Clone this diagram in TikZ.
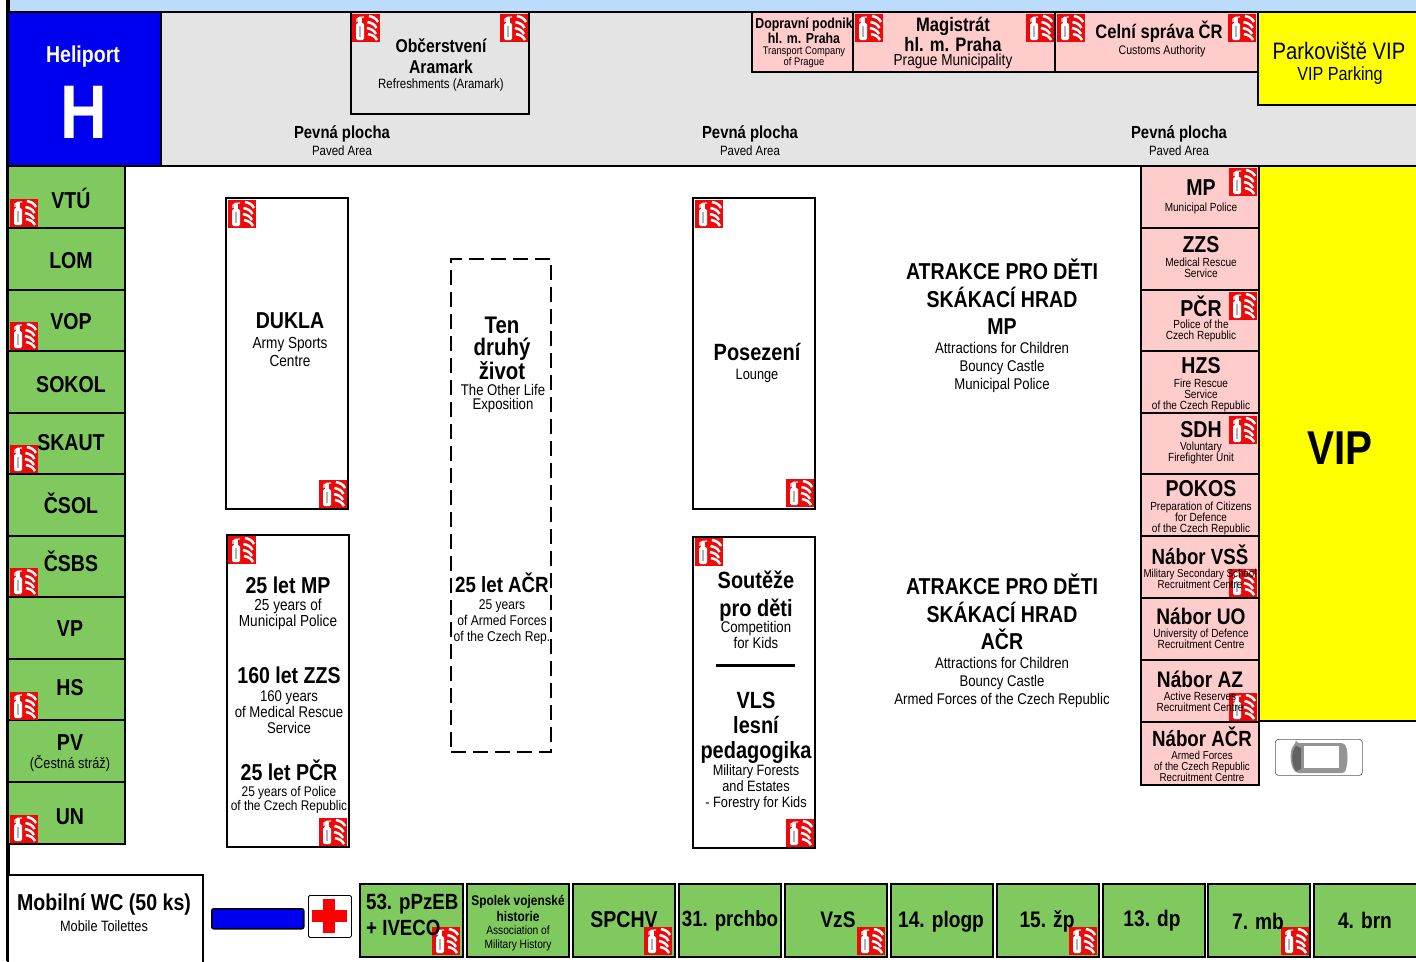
\documentclass[tikz,border=0pt]{standalone}
\usepackage{fontspec}
\setmainfont[FakeStretch=0.85]{Liberation Sans}
\definecolor{sky}{HTML}{BBDDFB}
\definecolor{pave}{HTML}{E4E4E4}
\definecolor{pinkb}{HTML}{FFCCCC}
\definecolor{greenb}{HTML}{7FC95F}
\definecolor{helib}{HTML}{0000F0}
\definecolor{vipy}{HTML}{FFFF00}
\definecolor{fired}{HTML}{EE0A0A}
\tikzset{
 area/.style={draw=black,line width=2.8pt,inner sep=0pt,outer sep=0pt,anchor=north west},
 hb/.style n args={2}{align=center,inner sep=0pt,font=\bfseries\fontsize{#1}{#2}\selectfont},
 hr/.style n args={2}{align=center,inner sep=0pt,font=\fontsize{#1}{#2}\selectfont},
 hbl/.style n args={2}{align=left,inner sep=0pt,font=\bfseries\fontsize{#1}{#2}\selectfont},
}
\newcommand{\bx}[6]{\node[area,#6,minimum width={(#4-#2)*1pt},minimum height={(#5-#3)*1pt}] (#1) at (#2,#3) {};}
\newcommand{\fireicon}[2]{\begin{scope}[shift={(#1,#2)}]
 \fill[fired] (0,0) rectangle (28,28);
 \fill[white,rounded corners=1.5pt] (4,9) rectangle (12,26);
 \fill[black!30] (7,12) rectangle (9,23);
 \draw[white,line width=1.2pt] (5,8) -- (5,5) .. controls (6,3) and (9,3) .. (12,3);
 \fill[white] (6,4) rectangle (10,9);
 \foreach \fy/\fx in {2/17,8/15.5,14/15,20/16}{
  \draw[white,line width=2.5pt] (\fx,\fy) .. controls (\fx+4,\fy+1) and (\fx+7,\fy+2) .. (\fx+9,\fy+6);}
 \end{scope}}
\begin{document}
\begin{tikzpicture}[x=1pt,y=-1pt]
\useasboundingbox (0,0) rectangle (1416,961);
\fill[white] (0,0) rectangle (1416,961);
\fill[sky] (8,0) rectangle (1416,12);
\coordinate (edgeT) at (8,0);
\coordinate (edgeB) at (8,961);
\draw[line width=3.4pt] (edgeT) -- (edgeB);
% top band
\bx{paved}{161}{12}{1418}{166}{fill=pave}
\bx{heli}{8}{12}{161}{166}{fill=helib}
\bx{aramark}{351}{12}{529}{114}{fill=pave}
\bx{dpp}{752}{12}{853}{72}{fill=pinkb}
\bx{magi}{853}{12}{1055}{72}{fill=pinkb}
\bx{celni}{1055}{12}{1258}{72}{fill=pinkb}
\bx{vipp}{1258}{12}{1418}{105}{fill=vipy}
\bx{vip}{1259}{166}{1418}{721}{fill=vipy}
% left column
\bx{l1}{8}{166}{125}{228}{fill=greenb}
\bx{l2}{8}{228}{125}{290}{fill=greenb}
\bx{l3}{8}{290}{125}{351}{fill=greenb}
\bx{l4}{8}{351}{125}{413}{fill=greenb}
\bx{l5}{8}{413}{125}{474}{fill=greenb}
\bx{l6}{8}{474}{125}{536}{fill=greenb}
\bx{l7}{8}{536}{125}{597}{fill=greenb}
\bx{l8}{8}{597}{125}{659}{fill=greenb}
\bx{l9}{8}{659}{125}{720}{fill=greenb}
\bx{l10}{8}{720}{125}{782}{fill=greenb}
\bx{l11}{8}{782}{125}{844}{fill=greenb}
% right column
\bx{r1}{1141}{166}{1259}{228}{fill=pinkb}
\bx{r2}{1141}{228}{1259}{290}{fill=pinkb}
\bx{r3}{1141}{290}{1259}{351}{fill=pinkb}
\bx{r4}{1141}{351}{1259}{413}{fill=pinkb}
\bx{r5}{1141}{413}{1259}{474}{fill=pinkb}
\bx{r6}{1141}{474}{1259}{536}{fill=pinkb}
\bx{r7}{1141}{536}{1259}{598}{fill=pinkb}
\bx{r8}{1141}{598}{1259}{660}{fill=pinkb}
\bx{r9}{1141}{660}{1259}{722}{fill=pinkb}
\bx{r10}{1141}{722}{1259}{785}{fill=pinkb}
% centre boxes
\bx{dukla}{226}{198}{348}{509}{fill=white}
\bx{jub}{227}{535}{349}{847}{fill=white}
\bx{life}{451}{259}{551}{752}{fill=white,dash pattern=on 15pt off 7pt}
\bx{lounge}{693}{198}{815}{509}{fill=white}
\bx{kids}{693}{537}{815}{848}{fill=white}
\coordinate (ruleL) at (716,665);
\coordinate (ruleR) at (795,665);
\draw[line width=3pt] (ruleL) -- (ruleR);
% bottom row
\bx{wc}{8}{875}{203}{964}{fill=white}
\node[draw=black,line width=1.5pt,fill=helib,rounded corners=2pt,inner sep=0pt,anchor=north west,minimum width=92pt,minimum height=20pt] (bar) at (211,908) {};
\node[draw=black,line width=0.8pt,fill=white,rounded corners=1.5pt,inner sep=0pt,anchor=north west,minimum width=43pt,minimum height=42pt] (aid) at (308,895) {};
\fill[red] (323,899) rectangle (335,933);
\fill[red] (312,910) rectangle (347,922);
\bx{b1}{360}{884}{463}{957}{fill=greenb}
\bx{b2}{467}{884}{569}{957}{fill=greenb}
\bx{b3}{573}{884}{675}{957}{fill=greenb}
\bx{b4}{679}{884}{781}{957}{fill=greenb}
\bx{b5}{785}{884}{887}{957}{fill=greenb}
\bx{b6}{891}{884}{993}{957}{fill=greenb}
\bx{b7}{997}{884}{1099}{957}{fill=greenb}
\bx{b8}{1103}{884}{1205}{957}{fill=greenb}
\bx{b9}{1208}{884}{1310}{957}{fill=greenb}
\bx{b10}{1314}{884}{1418}{957}{fill=greenb}
% car
\node[draw=black!65,line width=0.7pt,fill=white,rounded corners=3pt,inner sep=0pt,anchor=north west,minimum width=87pt,minimum height=36pt] (car) at (1275,739) {};
\fill[black!42,rounded corners=3pt] (1296,743) -- (1344,743) .. controls (1347,748) and (1349,758) .. (1345,773) -- (1296,773) .. controls (1290,765) and (1289,750) .. (1296,743) -- cycle;
\fill[black!62] (1296,746) .. controls (1291,752) and (1291,764) .. (1296,771) -- (1301,769) -- (1301,748) -- cycle;
\fill[white] (1304,746) rectangle (1339,768);
% fire icons
\fireicon{352}{14}\fireicon{500}{14}\fireicon{855}{14}\fireicon{1026}{14}\fireicon{1057}{14}\fireicon{1228}{14}
\fireicon{10}{199}\fireicon{10}{322}\fireicon{10}{445}\fireicon{10}{568}\fireicon{10}{692}\fireicon{10}{815}
\fireicon{228}{200}\fireicon{319}{480}\fireicon{228}{536}\fireicon{319}{818}
\fireicon{695}{200}\fireicon{786}{479}\fireicon{695}{538}\fireicon{786}{819}
\fireicon{1229}{168}\fireicon{1229}{292}\fireicon{1229}{416}\fireicon{1229}{569}\fireicon{1229}{693}
\fireicon{432}{927}\fireicon{644}{927}\fireicon{857}{927}\fireicon{1069}{927}\fireicon{1281}{927}
% top texts
\node[hb={23}{26},text=white] (tHeli) at (83,56.5) {Heliport};
\node[hb={76}{76},text=white] (tH) at (84,112) {H};
\node[hb={18.5}{21.5}] (tAra) at (441,56) {Občerstvení\\Aramark};
\node[hr={13.5}{15}] (tAraE) at (441,85) {Refreshments (Aramark)};
\node[hb={17.5}{19}] (tP1) at (342,134) {Pevná plocha};
\node[hr={13.5}{15}] (tP1e) at (342,151) {Paved Area};
\node[hb={17.5}{19}] (tP2) at (750,134) {Pevná plocha};
\node[hr={13.5}{15}] (tP2e) at (750,151) {Paved Area};
\node[hb={17.5}{19}] (tP3) at (1179,134) {Pevná plocha};
\node[hr={13.5}{15}] (tP3e) at (1179,151) {Paved Area};
\node[hb={14.5}{15}] (tDpp) at (804,31) {Dopravní podnik\\hl. m. Praha};
\node[hr={11}{11}] (tDppE) at (804,57) {Transport Company\\of Prague};
\node[hb={19.5}{17.5}] (tMag) at (953,34.5) {Magistrát\\hl. m. Praha};
\node[hr={16}{17}] (tMagE) at (953,61) {Prague Municipality};
\node[hb={19.5}{22}] (tCel) at (1159,31.5) {Celní správa ČR};
\node[hr={12.5}{14}] (tCelE) at (1162,51) {Customs Authority};
\node[hr={23.8}{26}] (tPark) at (1339,51) {Parkoviště VIP};
\node[hr={19}{21}] (tParkE) at (1340,76) {VIP Parking};
\node[hb={47.5}{50}] (tVip) at (1340,448) {VIP};
% left texts
\node[hb={23}{26}] (tl1) at (71,198) {VTÚ};
\node[hb={23}{26}] (tl2) at (71,261) {LOM};
\node[hb={23}{26}] (tl3) at (71,322) {VOP};
\node[hb={23}{26}] (tl4) at (71,385) {SOKOL};
\node[hb={23}{26}] (tl5) at (71,443) {SKAUT};
\node[hb={23}{26}] (tl6) at (71,503) {ČSOL};
\node[hb={23}{26}] (tl7) at (71,561) {ČSBS};
\node[hb={23}{26}] (tl8) at (70,629) {VP};
\node[hb={23}{26}] (tl9) at (70,688) {HS};
\node[hb={23}{26}] (tl10) at (70,743) {PV};
\node[hr={15}{17}] (tl10e) at (70,763) {(Čestná stráž)};
\node[hb={23}{26}] (tl11) at (70,817) {UN};
% right texts
\node[hb={23}{26}] (tr1) at (1201,188) {MP};
\node[hr={11.8}{11}] (tr1e) at (1201,208.5) {Municipal Police};
\node[hb={23}{26}] (tr2) at (1201,245) {ZZS};
\node[hr={11.8}{11}] (tr2e) at (1201,268) {Medical Rescue\\Service};
\node[hb={23}{26}] (tr3) at (1201,306) {PČR};
\node[hr={11.8}{11}] (tr3e) at (1201,331) {Police of the\\Czech Republic};
\node[hb={23}{26}] (tr4) at (1201,366) {HZS};
\node[hr={11.8}{11}] (tr4e) at (1201,395) {Fire Rescue\\Service\\of the Czech Republic};
\node[hb={23}{26}] (tr5) at (1201,430) {SDH};
\node[hr={11.8}{11}] (tr5e) at (1201,452.5) {Voluntary\\Firefighter Unit};
\node[hb={23}{26}] (tr6) at (1201,489) {POKOS};
\node[hr={11.8}{11}] (tr6e) at (1201,518) {Preparation of Citizens\\for Defence\\of the Czech Republic};
\node[hb={22}{26}] (tr7) at (1200,555) {Nábor VSŠ};
\node[hr={11.5}{11}] (tr7e) at (1200,579) {Military Secondary School\\Recruitment Centre};
\node[hb={22.5}{26}] (tr8) at (1201,616) {Nábor UO};
\node[hr={11.8}{11}] (tr8e) at (1201,639) {University of Defence\\Recruitment Centre};
\node[hb={22.5}{26}] (tr9) at (1200,679) {Nábor AZ};
\node[hr={11.8}{11}] (tr9e) at (1200,702) {Active Reserves\\Recruitment Centre};
\node[hb={22}{26}] (tr10) at (1202,737) {Nábor AČR};
\node[hr={11.5}{10.7}] (tr10e) at (1202,766.5) {Armed Forces\\of the Czech Republic\\Recruitment Centre};
% centre texts
\node[hb={23}{26}] (tDuk) at (290,321) {DUKLA};
\node[hr={16}{18}] (tDukE) at (290,352) {Army Sports\\Centre};
\node[hb={23}{26}] (tJ1) at (288,585) {25 let MP};
\node[hr={16}{16}] (tJ1e) at (288,614.5) {25 years of\\Municipal Police};
\node[hb={23}{26}] (tJ2) at (289,675) {160 let ZZS};
\node[hr={15.5}{16}] (tJ2e) at (289,712.5) {160 years\\of Medical Rescue\\Service};
\node[hb={23}{26}] (tJ3) at (289,770.5) {25 let PČR};
\node[hr={14}{14}] (tJ3e) at (289,800) {25 years of Police\\of the Czech Republic};
\node[hb={24}{22.5}] (tLife) at (502,348.5) {Ten\\druhý\\život};
\node[hr={15.5}{14}] (tLifeE) at (503,398.5) {The Other Life\\Exposition};
\node[hb={22}{26}] (tAcr) at (502,583) {25 let AČR};
\node[hr={14.2}{16}] (tAcrE) at (502,622) {25 years\\of Armed Forces\\of the Czech Rep.};
\node[hb={23.5}{26}] (tLou) at (757,352) {Posezení};
\node[hr={15}{17}] (tLouE) at (757,376) {Lounge};
\node[hb={23.5}{28}] (tKid) at (756,596) {Soutěže\\pro děti};
\node[hr={15.5}{16}] (tKidE) at (756,635) {Competition\\for Kids};
\node[hb={23.5}{25}] (tVls) at (756,727.5) {VLS\\lesní\\pedagogika};
\node[hr={15}{16}] (tVlsE) at (756,787.5) {Military Forests\\and Estates\\- Forestry for Kids};
\node[hb={23}{27.5}] (tAt1) at (1002,297) {ATRAKCE PRO DĚTI\\SKÁKACÍ HRAD\\MP};
\node[hr={15.5}{18}] (tAt1e) at (1002,367.5) {Attractions for Children\\Bouncy Castle\\Municipal Police};
\node[hb={23}{27.5}] (tAt2) at (1002,612) {ATRAKCE PRO DĚTI\\SKÁKACÍ HRAD\\AČR};
\node[hr={15.5}{18}] (tAt2e) at (1002,682.5) {Attractions for Children\\Bouncy Castle\\Armed Forces of the Czech Republic};
% bottom texts
\node[hb={23}{26}] (tWc) at (104,904.5) {Mobilní WC (50 ks)};
\node[hr={15}{17}] (tWcE) at (104,926.5) {Mobile Toilettes};
\node[hbl={22}{26.5},anchor=west] (tb1) at (366,915) {53. pPzEB\\+ IVECO};
\node[hb={14}{16}] (tb2) at (518,908) {Spolek vojenské\\historie};
\node[hr={12}{14}] (tb2e) at (518,938) {Association of\\Military History};
\node[hb={23}{26}] (tb3) at (624,920) {SPCHV};
\node[hb={22}{26}] (tb4) at (730,921) {31. prchbo};
\node[hb={22.5}{26}] (tb5) at (838,920) {VzS};
\node[hb={22.5}{26}] (tb6) at (941,921.5) {14. plogp};
\node[hb={22.5}{26}] (tb7) at (1047,921.5) {15. žp};
\node[hb={22.5}{26}] (tb8) at (1152,921) {13. dp};
\node[hb={22.5}{26}] (tb9) at (1258,921) {7. mb};
\node[hb={22.5}{26}] (tb10) at (1365,920) {4. brn};
\end{tikzpicture}
\end{document}
